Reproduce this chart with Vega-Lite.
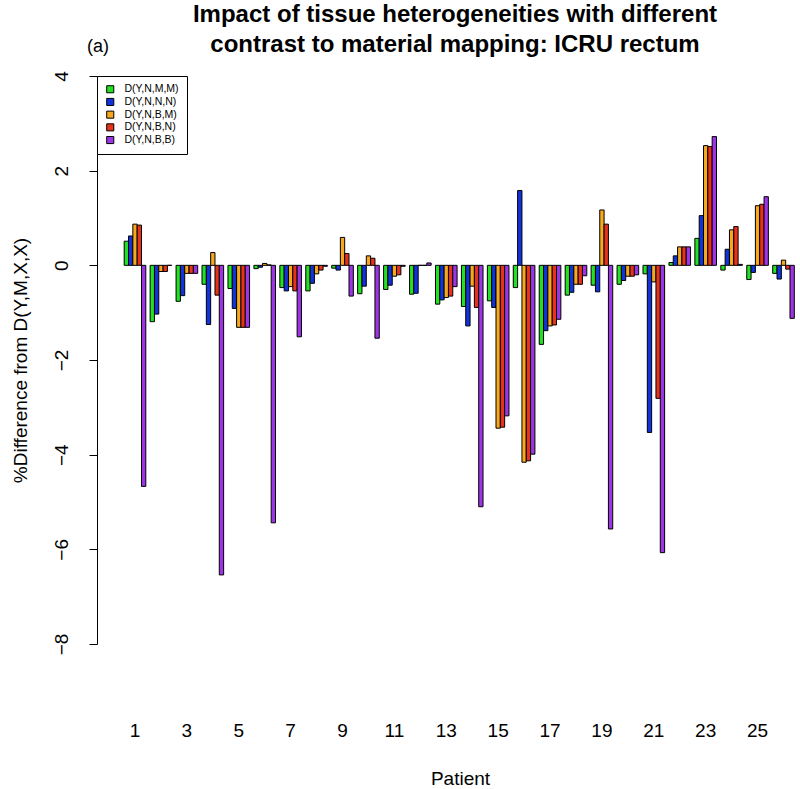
{
  "$schema": "https://vega.github.io/schema/vega-lite/v6.json",
  "width": 700,
  "height": 568,
  "autosize": {"type": "none"},
  "padding": {"left": 97, "top": 76, "right": 3, "bottom": 145},
  "background": "white",
  "title": {
    "text": ["Impact of tissue heterogeneities with different", "contrast to material mapping: ICRU rectum"],
    "fontSize": 24,
    "fontWeight": "bold",
    "font": "Liberation Sans",
    "lineHeight": 30,
    "offset": -19,
    "anchor": "middle",
    "dx": 8,
    "color": "black"
  },
  "config": {"view": {"stroke": null}, "font": "Liberation Sans"},
  "layer": [
    {
      "data": {
        "values": [
          {"p": 1, "s": "D(Y,N,M,M)", "v": 0.51}, {"p": 1, "s": "D(Y,N,N,N)", "v": 0.62}, {"p": 1, "s": "D(Y,N,B,M)", "v": 0.87}, {"p": 1, "s": "D(Y,N,B,N)", "v": 0.85}, {"p": 1, "s": "D(Y,N,B,B)", "v": -4.67},
          {"p": 2, "s": "D(Y,N,M,M)", "v": -1.19}, {"p": 2, "s": "D(Y,N,N,N)", "v": -1.03}, {"p": 2, "s": "D(Y,N,B,M)", "v": -0.13}, {"p": 2, "s": "D(Y,N,B,N)", "v": -0.13}, {"p": 2, "s": "D(Y,N,B,B)", "v": 0.0},
          {"p": 3, "s": "D(Y,N,M,M)", "v": -0.76}, {"p": 3, "s": "D(Y,N,N,N)", "v": -0.64}, {"p": 3, "s": "D(Y,N,B,M)", "v": -0.17}, {"p": 3, "s": "D(Y,N,B,N)", "v": -0.17}, {"p": 3, "s": "D(Y,N,B,B)", "v": -0.17},
          {"p": 4, "s": "D(Y,N,M,M)", "v": -0.40}, {"p": 4, "s": "D(Y,N,N,N)", "v": -1.25}, {"p": 4, "s": "D(Y,N,B,M)", "v": 0.27}, {"p": 4, "s": "D(Y,N,B,N)", "v": -0.63}, {"p": 4, "s": "D(Y,N,B,B)", "v": -6.54},
          {"p": 5, "s": "D(Y,N,M,M)", "v": -0.49}, {"p": 5, "s": "D(Y,N,N,N)", "v": -0.91}, {"p": 5, "s": "D(Y,N,B,M)", "v": -1.31}, {"p": 5, "s": "D(Y,N,B,N)", "v": -1.31}, {"p": 5, "s": "D(Y,N,B,B)", "v": -1.31},
          {"p": 6, "s": "D(Y,N,M,M)", "v": -0.07}, {"p": 6, "s": "D(Y,N,N,N)", "v": -0.04}, {"p": 6, "s": "D(Y,N,B,M)", "v": 0.04}, {"p": 6, "s": "D(Y,N,B,N)", "v": 0.01}, {"p": 6, "s": "D(Y,N,B,B)", "v": -5.44},
          {"p": 7, "s": "D(Y,N,M,M)", "v": -0.47}, {"p": 7, "s": "D(Y,N,N,N)", "v": -0.54}, {"p": 7, "s": "D(Y,N,B,M)", "v": -0.45}, {"p": 7, "s": "D(Y,N,B,N)", "v": -0.54}, {"p": 7, "s": "D(Y,N,B,B)", "v": -1.51},
          {"p": 8, "s": "D(Y,N,M,M)", "v": -0.54}, {"p": 8, "s": "D(Y,N,N,N)", "v": -0.38}, {"p": 8, "s": "D(Y,N,B,M)", "v": -0.18}, {"p": 8, "s": "D(Y,N,B,N)", "v": -0.10}, {"p": 8, "s": "D(Y,N,B,B)", "v": -0.02},
          {"p": 9, "s": "D(Y,N,M,M)", "v": -0.06}, {"p": 9, "s": "D(Y,N,N,N)", "v": -0.10}, {"p": 9, "s": "D(Y,N,B,M)", "v": 0.59}, {"p": 9, "s": "D(Y,N,B,N)", "v": 0.25}, {"p": 9, "s": "D(Y,N,B,B)", "v": -0.65},
          {"p": 10, "s": "D(Y,N,M,M)", "v": -0.60}, {"p": 10, "s": "D(Y,N,N,N)", "v": -0.44}, {"p": 10, "s": "D(Y,N,B,M)", "v": 0.20}, {"p": 10, "s": "D(Y,N,B,N)", "v": 0.15}, {"p": 10, "s": "D(Y,N,B,B)", "v": -1.54},
          {"p": 11, "s": "D(Y,N,M,M)", "v": -0.51}, {"p": 11, "s": "D(Y,N,N,N)", "v": -0.42}, {"p": 11, "s": "D(Y,N,B,M)", "v": -0.23}, {"p": 11, "s": "D(Y,N,B,N)", "v": -0.20}, {"p": 11, "s": "D(Y,N,B,B)", "v": -0.02},
          {"p": 12, "s": "D(Y,N,M,M)", "v": -0.61}, {"p": 12, "s": "D(Y,N,N,N)", "v": -0.59}, {"p": 12, "s": "D(Y,N,B,M)", "v": 0.0}, {"p": 12, "s": "D(Y,N,B,N)", "v": 0.0}, {"p": 12, "s": "D(Y,N,B,B)", "v": 0.05},
          {"p": 13, "s": "D(Y,N,M,M)", "v": -0.82}, {"p": 13, "s": "D(Y,N,N,N)", "v": -0.73}, {"p": 13, "s": "D(Y,N,B,M)", "v": -0.68}, {"p": 13, "s": "D(Y,N,B,N)", "v": -0.65}, {"p": 13, "s": "D(Y,N,B,B)", "v": -0.45},
          {"p": 14, "s": "D(Y,N,M,M)", "v": -0.87}, {"p": 14, "s": "D(Y,N,N,N)", "v": -1.28}, {"p": 14, "s": "D(Y,N,B,M)", "v": -0.44}, {"p": 14, "s": "D(Y,N,B,N)", "v": -0.89}, {"p": 14, "s": "D(Y,N,B,B)", "v": -5.10},
          {"p": 15, "s": "D(Y,N,M,M)", "v": -0.75}, {"p": 15, "s": "D(Y,N,N,N)", "v": -0.89}, {"p": 15, "s": "D(Y,N,B,M)", "v": -3.44}, {"p": 15, "s": "D(Y,N,B,N)", "v": -3.42}, {"p": 15, "s": "D(Y,N,B,B)", "v": -3.18},
          {"p": 16, "s": "D(Y,N,M,M)", "v": -0.47}, {"p": 16, "s": "D(Y,N,N,N)", "v": 1.58}, {"p": 16, "s": "D(Y,N,B,M)", "v": -4.16}, {"p": 16, "s": "D(Y,N,B,N)", "v": -4.13}, {"p": 16, "s": "D(Y,N,B,B)", "v": -3.99},
          {"p": 17, "s": "D(Y,N,M,M)", "v": -1.67}, {"p": 17, "s": "D(Y,N,N,N)", "v": -1.38}, {"p": 17, "s": "D(Y,N,B,M)", "v": -1.28}, {"p": 17, "s": "D(Y,N,B,N)", "v": -1.26}, {"p": 17, "s": "D(Y,N,B,B)", "v": -1.14},
          {"p": 18, "s": "D(Y,N,M,M)", "v": -0.63}, {"p": 18, "s": "D(Y,N,N,N)", "v": -0.57}, {"p": 18, "s": "D(Y,N,B,M)", "v": -0.40}, {"p": 18, "s": "D(Y,N,B,N)", "v": -0.40}, {"p": 18, "s": "D(Y,N,B,B)", "v": -0.22},
          {"p": 19, "s": "D(Y,N,M,M)", "v": -0.42}, {"p": 19, "s": "D(Y,N,N,N)", "v": -0.56}, {"p": 19, "s": "D(Y,N,B,M)", "v": 1.17}, {"p": 19, "s": "D(Y,N,B,N)", "v": 0.87}, {"p": 19, "s": "D(Y,N,B,B)", "v": -5.57},
          {"p": 20, "s": "D(Y,N,M,M)", "v": -0.40}, {"p": 20, "s": "D(Y,N,N,N)", "v": -0.32}, {"p": 20, "s": "D(Y,N,B,M)", "v": -0.23}, {"p": 20, "s": "D(Y,N,B,N)", "v": -0.23}, {"p": 20, "s": "D(Y,N,B,B)", "v": -0.20},
          {"p": 21, "s": "D(Y,N,M,M)", "v": -0.18}, {"p": 21, "s": "D(Y,N,N,N)", "v": -3.53}, {"p": 21, "s": "D(Y,N,B,M)", "v": -0.35}, {"p": 21, "s": "D(Y,N,B,N)", "v": -2.81}, {"p": 21, "s": "D(Y,N,B,B)", "v": -6.07},
          {"p": 22, "s": "D(Y,N,M,M)", "v": 0.06}, {"p": 22, "s": "D(Y,N,N,N)", "v": 0.20}, {"p": 22, "s": "D(Y,N,B,M)", "v": 0.39}, {"p": 22, "s": "D(Y,N,B,N)", "v": 0.39}, {"p": 22, "s": "D(Y,N,B,B)", "v": 0.39},
          {"p": 23, "s": "D(Y,N,M,M)", "v": 0.57}, {"p": 23, "s": "D(Y,N,N,N)", "v": 1.05}, {"p": 23, "s": "D(Y,N,B,M)", "v": 2.53}, {"p": 23, "s": "D(Y,N,B,N)", "v": 2.51}, {"p": 23, "s": "D(Y,N,B,B)", "v": 2.72},
          {"p": 24, "s": "D(Y,N,M,M)", "v": -0.10}, {"p": 24, "s": "D(Y,N,N,N)", "v": 0.34}, {"p": 24, "s": "D(Y,N,B,M)", "v": 0.75}, {"p": 24, "s": "D(Y,N,B,N)", "v": 0.82}, {"p": 24, "s": "D(Y,N,B,B)", "v": 0.02},
          {"p": 25, "s": "D(Y,N,M,M)", "v": -0.30}, {"p": 25, "s": "D(Y,N,N,N)", "v": -0.15}, {"p": 25, "s": "D(Y,N,B,M)", "v": 1.26}, {"p": 25, "s": "D(Y,N,B,N)", "v": 1.29}, {"p": 25, "s": "D(Y,N,B,B)", "v": 1.45},
          {"p": 26, "s": "D(Y,N,M,M)", "v": -0.17}, {"p": 26, "s": "D(Y,N,N,N)", "v": -0.29}, {"p": 26, "s": "D(Y,N,B,M)", "v": 0.11}, {"p": 26, "s": "D(Y,N,B,N)", "v": -0.08}, {"p": 26, "s": "D(Y,N,B,B)", "v": -1.12}
        ]
      },
      "mark": {"type": "bar", "stroke": "black", "strokeWidth": 1},
      "encoding": {
        "x": {
          "field": "p",
          "type": "ordinal",
          "title": "Patient",
          "scale": {"paddingInner": 0.1667, "paddingOuter": 0.576, "align": 0.91},
          "axis": {
            "values": [1, 3, 5, 7, 9, 11, 13, 15, 17, 19, 21, 23, 25],
            "domain": false,
            "ticks": false,
            "grid": false,
            "labelAngle": 0,
            "labelPadding": 77,
            "labelFontSize": 19,
            "labelColor": "black",
            "titleFontSize": 19,
            "titleFontWeight": "normal",
            "titleColor": "black",
            "titlePadding": 29,
            "titleX": 363
          }
        },
        "xOffset": {
          "field": "s",
          "type": "nominal",
          "sort": ["D(Y,N,M,M)", "D(Y,N,N,N)", "D(Y,N,B,M)", "D(Y,N,B,N)", "D(Y,N,B,B)"],
          "scale": {"paddingInner": 0, "paddingOuter": 0}
        },
        "y": {
          "field": "v",
          "type": "quantitative",
          "title": "%Difference from D(Y,M,X,X)",
          "scale": {"domain": [-8, 4], "nice": false},
          "axis": {
            "values": [-8, -6, -4, -2, 0, 2, 4],
            "grid": false,
            "domainColor": "black",
            "tickColor": "black",
            "tickSize": 8,
            "labelAngle": -90,
            "labelAlign": "center",
            "labelBaseline": "bottom",
            "labelPadding": 18,
            "labelFontSize": 19,
            "labelColor": "black",
            "titleFontSize": 19,
            "titleFontWeight": "normal",
            "titleColor": "black",
            "titlePadding": 22
          }
        },
        "color": {
          "field": "s",
          "type": "nominal",
          "scale": {
            "domain": ["D(Y,N,M,M)", "D(Y,N,N,N)", "D(Y,N,B,M)", "D(Y,N,B,N)", "D(Y,N,B,B)"],
            "range": ["#22E022", "#1133DD", "#F6A81F", "#E8321C", "#9D35E6"]
          },
          "legend": {
            "title": null,
            "orient": "top-left",
            "offset": 0,
            "strokeColor": "black",
            "fillColor": "white",
            "padding": 8,
            "symbolType": "square",
            "symbolSize": 50,
            "symbolStrokeColor": "black",
            "symbolStrokeWidth": 1,
            "symbolOpacity": 1,
            "labelFontSize": 10.5,
            "labelColor": "black",
            "labelOffset": 9,
            "rowPadding": 0.7
          }
        }
      }
    },
    {
      "data": {"values": [{"t": "(a)"}]},
      "mark": {"type": "text", "fontSize": 18, "dx": -37, "align": "center", "baseline": "middle", "color": "black"},
      "encoding": {
        "x": {"datum": 1, "type": "ordinal", "title": "Patient"},
        "y": {"datum": 4.61, "type": "quantitative", "title": "%Difference from D(Y,M,X,X)"},
        "text": {"field": "t"}
      }
    }
  ]
}
